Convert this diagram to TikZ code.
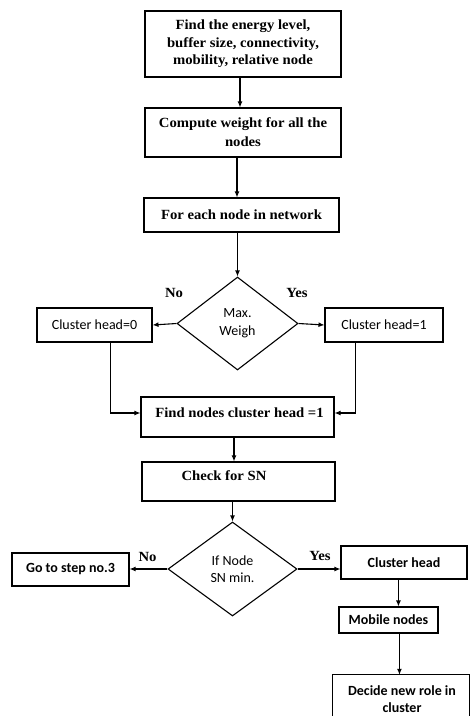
\documentclass[tikz,border=0pt]{standalone}
\usepackage{fontspec}
\setmainfont{Liberation Serif}
\newfontfamily\serb[FakeStretch=1.05]{Liberation Serif}
\newfontfamily\calfont{Carlito}
\usetikzlibrary{shapes.geometric,arrows.meta,calc}
\tikzset{
  box/.style={draw, line width=1.1pt, inner sep=0pt, align=center},
  dia/.style={diamond, draw, line width=1.1pt, inner sep=0pt, align=center},
  sertxt/.style={font=\serb\bfseries\fontsize{14}{17.5}\selectfont, align=center},
  sanstxt/.style={font=\calfont\fontsize{14}{17}\selectfont, align=center},
  sansbold/.style={font=\calfont\bfseries\fontsize{14}{17}\selectfont, align=center},
  arr/.style={-{Latex[length=6pt,width=5pt]}, line width=1.1pt},
  ln/.style={line width=1.1pt}
}
\begin{document}
\begin{tikzpicture}[x=1pt,y=-1pt]
\useasboundingbox (0,0) rectangle (470,716);
% boxes
\node[box, sertxt, minimum width=196pt, minimum height=66pt] (b1) at (243,44)
  {Find the energy level,\\buffer size, connectivity,\\mobility, relative node};
\node[box, sertxt, minimum width=196pt, minimum height=49pt, font=\serb\bfseries\fontsize{14}{19}\selectfont] (b2) at (243,132.5)
  {Compute weight for all the\\nodes};
\node[box, sertxt, minimum width=195pt, minimum height=34pt] (b3) at (241.5,215)
  {For each node in network};
\node[dia, sanstxt, minimum width=121pt, minimum height=93pt, font=\calfont\fontsize{14}{18}\selectfont] (d1) at (237.5,323.5)
  {Max.\\Weigh};
\node[box, sanstxt, minimum width=115pt, minimum height=34pt] (ch0) at (94.5,325) {Cluster head=0};
\node[box, sanstxt, minimum width=118pt, minimum height=34pt] (ch1) at (384,325) {Cluster head=1};
\node[box, minimum width=193pt, minimum height=40pt] (find) at (237.5,417) {};
\node[sertxt] (findt) at (239.5,413) {Find nodes cluster head =1};
\node[box, minimum width=193pt, minimum height=39pt] (check) at (238.5,481.5) {};
\node[sertxt] (checkt) at (224,476) {Check for SN};
\node[dia, sanstxt, minimum width=129pt, minimum height=94pt] (d2) at (232.5,569)
  {If Node\\SN min.};
\node[box, sansbold, minimum width=117pt, minimum height=33pt] (go) at (70.5,569.5) {Go to step no.3};
\node[box, sansbold, minimum width=126pt, minimum height=33pt] (chd) at (404,562.5) {Cluster head};
\node[box, sansbold, minimum width=99pt, minimum height=26pt] (mob) at (388.5,620) {Mobile nodes};
\node[minimum width=136pt, minimum height=41pt, inner sep=0pt] (dec) at (401,695.5) {};
\node[sansbold] (dect) at (402,699) {Decide new role in\\cluster};
\draw[ln] (dec.south west) -- (dec.north west) -- (dec.north east) -- (dec.south east);
% labels
\node[sertxt] (no1) at (174,293) {No};
\node[sertxt] (yes1) at (297,293) {Yes};
\node[sertxt] (no2) at (147.5,557) {No};
\node[sertxt] (yes2) at (320,556) {Yes};
% connectors
\draw[arr] ($(b1.south)+(-3,0)$) -- ($(b2.north)+(-3,0)$);
\draw[arr] ($(b2.south)+(-6,0)$) -- ($(b3.north)+(-4.5,0)$);
\draw[arr] (b3.south -| d1.north) -- (d1.north);
\draw[arr] (d1.west) -- (ch0.east);
\draw[arr] (d1.east) -- (ch1.west);
\draw[arr] ($(ch0.south west)+(45,0)$) -- ($(ch0.south west)+(74,0)$) |- ($(find.west)+(0,-4)$);
\draw[arr] ($(ch1.south west)+(31,0)$) |- ($(find.east)+(0,-4)$);
\draw[arr] ($(find.south)+(-3.5,0)$) -- ($(check.north)+(-4.5,0)$);
\draw[arr] (check.south -| d2.north) -- (d2.north);
\draw[arr] (d2.west) -- (d2.west -| go.east);
\draw[arr] (d2.east) -- (d2.east -| chd.west);
\coordinate (c1) at ($(chd.south west)+(58,0)$);
\draw[arr] (c1) -- (c1 |- mob.north);
\coordinate (c2) at ($(mob.south west)+(61,0)$);
\draw[arr] (c2) -- (c2 |- dec.north);
\end{tikzpicture}
\end{document}
